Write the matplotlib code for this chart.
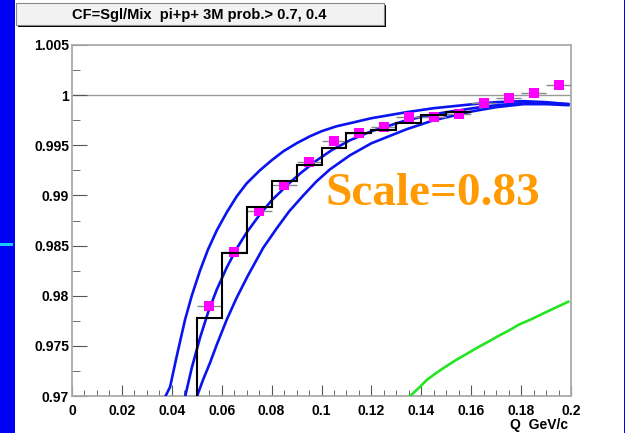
import matplotlib
matplotlib.use("Agg")
import matplotlib.pyplot as plt
import numpy as np
from matplotlib.patches import Rectangle

# measured points (magenta squares)
q_pts = [0.055, 0.065, 0.075, 0.085, 0.095, 0.105, 0.115, 0.125,
         0.135, 0.145, 0.155, 0.165, 0.175, 0.185, 0.195]
cf_pts = [0.9790, 0.9844, 0.9884, 0.9910, 0.9933, 0.9954, 0.9962, 0.9968,
          0.9978, 0.9978, 0.9981, 0.9992, 0.9997, 1.0002, 1.0010]
q_err = 0.005

# black histogram
hist_edges = [0.05, 0.06, 0.07, 0.08, 0.09, 0.10, 0.11, 0.12, 0.13, 0.14, 0.15, 0.16]
hist_vals = [0.9778, 0.9843, 0.9888, 0.9914, 0.9930, 0.9947, 0.9962, 0.9965,
             0.9972, 0.9980, 0.9983]

# blue fit curves (upper / middle / lower)
q_up = [0.0373, 0.0393, 0.042, 0.0453, 0.048, 0.0513, 0.0545, 0.058, 0.062,
        0.066, 0.070, 0.0753, 0.080, 0.0847, 0.090, 0.0954, 0.100, 0.1061,
        0.1114, 0.12, 0.1341, 0.145, 0.1608, 0.17, 0.1809, 0.19, 0.1989]
cf_up = [0.9699, 0.9709, 0.9740, 0.9776, 0.9800, 0.9825, 0.9846, 0.9865, 0.9883,
         0.9899, 0.9912, 0.9925, 0.9935, 0.9944, 0.9952, 0.9959, 0.9964, 0.9969,
         0.9972, 0.9977, 0.9983, 0.9987, 0.9991, 0.9993, 0.9994, 0.9993, 0.9991]

q_mid = [0.0453, 0.048, 0.0513, 0.0545, 0.058, 0.062, 0.066, 0.070, 0.0753,
         0.080, 0.0874, 0.092, 0.0981, 0.104, 0.1114, 0.12, 0.1341, 0.145,
         0.1608, 0.17, 0.1809, 0.19, 0.1989]
cf_mid = [0.9699, 0.9728, 0.9758, 0.9783, 0.9806, 0.9828, 0.9847, 0.9863, 0.9881,
          0.9895, 0.9913, 0.9923, 0.9935, 0.9945, 0.9955, 0.9964, 0.9975, 0.9981,
          0.9987, 0.9990, 0.9992, 0.9992, 0.9991]

q_low = [0.0500, 0.0525, 0.0553, 0.058, 0.0620, 0.066, 0.0705, 0.0767, 0.082,
         0.087, 0.0927, 0.098, 0.1034, 0.1114, 0.12, 0.1341, 0.145, 0.1608,
         0.17, 0.1809, 0.19, 0.1989]
cf_low = [0.9699, 0.9716, 0.9733, 0.9751, 0.9776, 0.9798, 0.9820, 0.9848, 0.9867,
          0.9884, 0.9900, 0.9914, 0.9926, 0.9940, 0.9952, 0.9966, 0.9975, 0.9984,
          0.9988, 0.9991, 0.9991, 0.9990]

# green curve
q_green = [0.1355, 0.139, 0.1422, 0.146, 0.1502, 0.154, 0.1582, 0.163, 0.1675,
           0.171, 0.1756, 0.179, 0.1836, 0.187, 0.1903, 0.1989]
cf_green = [0.9700, 0.9708, 0.9716, 0.9723, 0.9730, 0.9736, 0.9742, 0.9749, 0.9755,
            0.9760, 0.9766, 0.9771, 0.9776, 0.9780, 0.9784, 0.9794]

x_ticks = [0, 0.02, 0.04, 0.06, 0.08, 0.1, 0.12, 0.14, 0.16, 0.18, 0.2]
x_labels = ["0", "0.02", "0.04", "0.06", "0.08", "0.1", "0.12", "0.14", "0.16", "0.18", "0.2"]
y_ticks = [0.97, 0.975, 0.98, 0.985, 0.99, 0.995, 1.0, 1.005]
y_labels = ["0.97", "0.975", "0.98", "0.985", "0.99", "0.995", "1", "1.005"]

title = "CF=Sgl/Mix  pi+p+ 3M prob.> 0.7, 0.4"
xmin, xmax = 0, 0.2
ymin, ymax = 0.97, 1.005

W, H = 625, 433
fig = plt.figure(figsize=(W / 100, H / 100), dpi=100)
fig.patch.set_facecolor("white")

# slide background bits
fig.add_artist(Rectangle((0, 0), 15 / W, 1, transform=fig.transFigure,
                         facecolor="#0000f5", edgecolor="none"))
fig.add_artist(Rectangle((623.5 / W, 0), 2 / W, 1, transform=fig.transFigure,
                         facecolor="#0000f5", edgecolor="none"))
fig.add_artist(Rectangle((0, (H - 245.5) / H), 13 / W, 2.5 / H, transform=fig.transFigure,
                         facecolor="#19c8ff", edgecolor="none"))

# title box with shadow
fig.add_artist(Rectangle((18 / W, (H - 27) / H), 368 / W, 22 / H, transform=fig.transFigure,
                         facecolor="black", edgecolor="none"))
fig.add_artist(Rectangle((16 / W, (H - 25) / H), 368 / W, 22 / H, transform=fig.transFigure,
                         facecolor="#f2f2f2", edgecolor="#888888", linewidth=0.8))
fig.text(199 / W, (H - 14.5) / H, title, ha="center", va="center",
         fontsize=10.5, fontweight="bold", family="Liberation Sans")

ax = fig.add_axes([72 / W, (H - 396) / H, (571 - 72) / W, (396 - 45) / H])
ax.set_xlim(xmin, xmax)
ax.set_ylim(ymin, ymax)

ax.axhline(1.0, color="#999999", lw=1.0, zorder=1)

ax.plot(q_up, cf_up, color="#0a14f0", lw=1.9, zorder=3)
ax.plot(q_mid, cf_mid, color="#0a14f0", lw=1.9, zorder=3)
ax.plot(q_low, cf_low, color="#0a14f0", lw=1.9, zorder=3)
ax.plot(q_green, cf_green, color="#22e622", lw=1.9, zorder=3)

ax.errorbar(q_pts, cf_pts, xerr=q_err, fmt="none", ecolor="#888888", elinewidth=1.0, zorder=4)
ax.plot(q_pts, cf_pts, "s", color="#ff00ff", markersize=6.5, markeredgewidth=0, zorder=5)

ax.stairs(hist_vals, hist_edges, baseline=None, color="black", lw=1.5, zorder=6)
ax.plot([hist_edges[0], hist_edges[0]], [ymin, hist_vals[0]], color="black", lw=1.5, zorder=6)

ax.text(0.1445, 0.9901, "Scale=0.83", ha="center", va="center", color="#ff9a00",
        fontsize=34, fontweight="bold", family="Liberation Serif", zorder=7)

ax.set_xticks(x_ticks)
ax.set_xticklabels(x_labels)
ax.set_yticks(y_ticks)
ax.set_yticklabels(y_labels)
ax.set_xticks(np.arange(0, 0.2001, 0.005), minor=True)
ax.set_yticks(np.arange(0.97, 1.0051, 0.0025), minor=True)

ax.tick_params(axis="both", which="both", direction="in", colors="#555555",
               labelcolor="black", labelsize=10)
ax.tick_params(axis="x", which="major", length=8, pad=6)
ax.tick_params(axis="x", which="minor", length=4)
ax.tick_params(axis="y", which="major", length=11, pad=2)
ax.tick_params(axis="y", which="minor", length=6)
for lab in ax.get_xticklabels() + ax.get_yticklabels():
    lab.set_fontweight("bold")
    lab.set_family("Liberation Sans")

for side in ["left", "bottom", "right", "top"]:
    ax.spines[side].set_color("#aaaaaa")
    ax.spines[side].set_linewidth(1.3)

fig.text(568 / W, (H - 425) / H, "Q  GeV/c", ha="right", va="center",
         fontsize=10, fontweight="bold", family="Liberation Sans")

fig.savefig("out.png", dpi=100)
